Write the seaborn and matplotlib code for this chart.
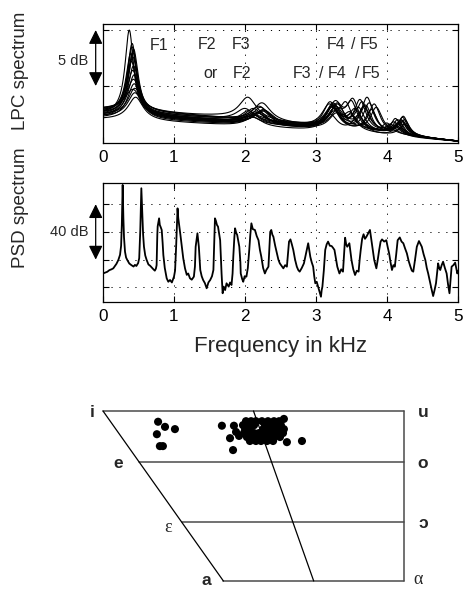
import numpy as np
import pandas as pd
import matplotlib
matplotlib.use("Agg")
import matplotlib.pyplot as plt
import seaborn as sns

nan = np.nan

# ---------------------------------------------------------------------------
# LPC envelopes: one row per analysed frame.
# Columns: F1, low F2 bump, F2/F3, F3/F4, F4/F5, F5 (kHz) and the peak level (dB)
# ---------------------------------------------------------------------------
lpc_formant_khz = np.array([
    [0.37, nan, 2.15, 3.25, 3.60, 4.15],
    [0.41, nan, 2.20, 3.27, 3.52, 4.20],
    [0.41, nan, 2.12, 3.24, 3.72, 4.22],
    [0.42, nan, 2.24, 3.28, 3.65, 4.10],
    [0.42, nan, 2.05, 3.20, 3.82, 4.25],
    [0.40, nan, 2.18, 3.30, 3.50, 4.15],
    [0.43, nan, 2.22, 3.24, 3.75, 4.20],
    [0.42, nan, 2.10, 3.22, 3.62, 4.05],
    [0.44, nan, 2.26, 3.30, 3.85, 4.22],
    [0.43, nan, 2.15, 3.26, 3.55, 4.10],
    [0.44, nan, 2.20, 3.23, 3.70, 4.18],
    [0.45, nan, 2.08, 3.28, 3.48, 4.20],
    [0.45, nan, 2.24, 3.25, 3.78, 4.25],
    [0.46, nan, 2.12, 3.20, 3.60, 4.15],
    [0.42, 1.60, 2.04, 3.22, 3.50, 4.00],
    [0.39, nan, 2.00, 3.18, 3.42, 4.12],
    [0.43, nan, 2.28, 3.30, 3.68, 4.23],
])
lpc_peak_db = np.array([
    [5.0, nan, -2.3, -1.6, -1.9, -3.0],
    [3.8, nan, -1.8, -1.3, -1.1, -3.1],
    [3.5, nan, -2.0, -1.5, -1.0, -2.8],
    [3.0, nan, -1.5, -1.8, -1.4, -3.2],
    [2.6, nan, -2.2, -1.4, -1.6, -3.0],
    [2.2, nan, -2.4, -2.0, -1.3, -3.3],
    [1.8, nan, -1.9, -1.7, -1.5, -3.0],
    [1.4, nan, -2.5, -1.9, -1.2, -3.4],
    [1.0, nan, -2.1, -1.5, -1.9, -3.1],
    [0.6, nan, -2.6, -2.2, -2.0, -3.5],
    [0.2, nan, -2.3, -1.8, -1.7, -3.2],
    [-0.2, nan, -2.7, -2.4, -2.3, -3.8],
    [-0.6, nan, -2.2, -2.0, -2.1, -3.4],
    [-1.0, nan, -2.8, -2.5, -2.6, -3.6],
    [-0.3, -2.5, -1.0, -1.8, -2.5, -3.3],
    [2.9, nan, -2.0, -1.6, -1.4, -2.9],
    [3.3, nan, -2.2, -1.6, -1.8, -2.7],
])
lpc_f1_width_khz = np.array([0.072, 0.078, 0.08, 0.085, 0.088, 0.09, 0.095, 0.10,
                             0.105, 0.11, 0.115, 0.12, 0.125, 0.13, 0.14, 0.08, 0.082])
lpc_width_khz = np.array([nan, 0.25, 0.15, 0.12, 0.10, 0.08])
lpc_offset_db = np.array([-2.5, -2.3, -2.6, -2.2, -2.7, -2.4, -2.8, -2.5, -2.65,
                          -2.1, -2.9, -2.6, -2.75, -3.0, -2.1, -2.3, -2.45])
lpc_nyquist_db = -4.95
lpc_tilt_power = 1.25

# ---------------------------------------------------------------------------
# Power spectral density of one frame (kHz, dB)
# ---------------------------------------------------------------------------
psd_points = [
    (0.00, 10.0), (0.03, 10.6), (0.06, 11.2), (0.09, 12.4), (0.12, 13.0), (0.145, 13.7),
    (0.17, 15.5), (0.19, 17.0), (0.216, 19.7), (0.24, 23.5), (0.255, 30.0), (0.265, 45.0),
    (0.277, 73.9), (0.287, 50.0), (0.296, 36.0), (0.31, 25.7), (0.325, 21.5), (0.342, 19.7),
    (0.37, 17.2), (0.40, 16.0), (0.43, 15.0), (0.45, 16.2), (0.47, 15.4), (0.495, 17.5),
    (0.51, 21.0), (0.525, 41.0), (0.54, 71.5), (0.553, 53.4), (0.565, 38.0), (0.577, 29.3),
    (0.595, 23.0), (0.615, 19.7), (0.64, 16.5), (0.665, 15.5), (0.686, 14.3), (0.71, 13.0),
    (0.73, 12.0), (0.745, 13.5), (0.755, 16.0), (0.765, 38.0), (0.77, 44.0), (0.79, 49.8),
    (0.80, 45.0), (0.81, 43.8), (0.827, 41.4), (0.84, 32.0), (0.85, 23.3), (0.87, 14.0),
    (0.897, 6.5), (0.92, 4.0), (0.944, 5.3), (0.97, 3.5), (1.00, 7.7), (1.015, 12.0),
    (1.03, 29.3), (1.05, 57.0), (1.06, 50.0), (1.07, 46.2), (1.09, 38.0), (1.11, 29.3),
    (1.13, 21.0), (1.155, 13.7), (1.18, 9.0), (1.20, 10.0), (1.225, 6.5), (1.25, 5.5),
    (1.28, 7.7), (1.295, 15.0), (1.305, 29.3), (1.33, 39.0), (1.35, 29.3), (1.37, 12.5),
    (1.39, 8.0), (1.41, 5.3), (1.435, 3.0), (1.46, -0.7), (1.485, 3.5), (1.51, 5.3),
    (1.535, 8.0), (1.555, 12.5), (1.565, 30.0), (1.577, 49.8), (1.59, 48.0), (1.605, 45.0),
    (1.62, 43.8), (1.65, 34.0), (1.66, 22.0), (1.67, 10.0), (1.685, -4.3), (1.70, 0.5),
    (1.72, -2.0), (1.74, 2.9), (1.77, 0.5), (1.79, 3.5), (1.81, 1.7), (1.825, 10.0),
    (1.835, 22.0), (1.85, 36.0), (1.86, 42.6), (1.875, 39.5), (1.89, 37.8), (1.92, 29.3),
    (1.935, 18.0), (1.94, 10.0), (1.96, 6.0), (1.975, 4.0), (1.995, 8.0), (2.02, 7.7),
    (2.04, 14.0), (2.06, 27.0), (2.075, 38.0), (2.09, 46.2), (2.11, 42.0), (2.14, 41.4),
    (2.165, 37.0), (2.19, 34.0), (2.21, 27.0), (2.23, 22.0), (2.255, 14.0), (2.28, 10.0),
    (2.30, 12.5), (2.33, 14.9), (2.345, 30.0), (2.355, 40.0), (2.37, 41.4), (2.385, 38.0),
    (2.40, 36.5), (2.425, 30.0), (2.45, 24.5), (2.47, 20.0), (2.49, 17.3), (2.515, 15.5),
    (2.54, 13.7), (2.565, 16.0), (2.59, 14.9), (2.605, 24.0), (2.62, 33.0), (2.64, 34.6),
    (2.66, 31.0), (2.68, 27.0), (2.705, 20.0), (2.73, 14.9), (2.75, 12.5), (2.77, 11.3),
    (2.80, 14.0), (2.83, 17.3), (2.85, 22.0), (2.87, 27.0), (2.89, 31.8), (2.905, 27.0),
    (2.92, 22.0), (2.94, 18.0), (2.96, 14.9), (2.975, 8.0), (2.99, 2.9), (3.01, 4.0),
    (3.03, 0.4), (3.05, -3.0), (3.07, -6.8), (3.08, -2.0), (3.09, 0.4), (3.11, 12.0),
    (3.13, 27.0), (3.15, 31.0), (3.17, 33.0), (3.195, 30.0), (3.22, 29.8), (3.24, 28.5),
    (3.26, 27.0), (3.28, 21.0), (3.30, 14.9), (3.33, 10.0), (3.355, 13.0), (3.38, 11.3),
    (3.395, 24.0), (3.41, 35.8), (3.425, 31.0), (3.44, 29.3), (3.47, 31.8), (3.485, 26.0),
    (3.50, 19.7), (3.525, 13.0), (3.55, 8.9), (3.575, 12.0), (3.60, 11.3), (3.615, 20.0),
    (3.63, 27.0), (3.65, 35.0), (3.67, 38.3), (3.69, 35.0), (3.71, 36.5), (3.735, 39.0),
    (3.76, 41.4), (3.78, 34.0), (3.80, 27.0), (3.82, 19.7), (3.85, 13.7), (3.87, 20.0),
    (3.89, 27.0), (3.91, 33.0), (3.93, 34.6), (3.96, 33.0), (3.99, 34.0), (4.01, 29.0),
    (4.03, 24.5), (4.05, 18.0), (4.07, 12.5), (4.09, 16.0), (4.11, 14.9), (4.13, 24.0),
    (4.15, 34.0), (4.18, 36.0), (4.205, 33.0), (4.23, 31.8), (4.255, 28.0), (4.28, 24.5),
    (4.305, 19.0), (4.33, 14.9), (4.35, 12.0), (4.37, 11.3), (4.395, 20.0), (4.42, 29.3),
    (4.45, 33.4), (4.49, 29.3), (4.515, 24.0), (4.54, 19.7), (4.56, 14.0), (4.58, 10.0),
    (4.605, 4.0), (4.63, -1.9), (4.65, -6.3), (4.67, -2.0), (4.69, 2.9), (4.705, 10.0),
    (4.72, 17.3), (4.735, 14.0), (4.75, 12.5), (4.77, 16.0), (4.79, 18.5), (4.815, 14.0),
    (4.84, 10.0), (4.86, 2.0), (4.88, -4.3), (4.895, 5.0), (4.91, 14.9), (4.935, 16.0),
    (4.96, 17.8), (4.975, 14.0), (4.99, 10.0), (5.00, 12.0),
]

# ---------------------------------------------------------------------------
# Vowel quadrilateral: tongue position of each frame (frontness 0..10, height 0..3)
# ---------------------------------------------------------------------------
vowel_front = [1.83, 2.06, 2.39, 1.79, 1.89, 1.99,
               3.95, 4.35, 4.22, 4.32, 4.52, 6.61, 6.01, 6.11,
               4.75, 4.92, 5.08, 5.28, 5.48, 5.68, 5.85,
               4.65, 4.82, 5.02, 5.38, 5.55, 5.75, 5.91,
               4.72, 4.88, 5.32, 5.48, 5.65, 5.81, 6.01,
               4.68, 4.85, 5.02, 5.18, 5.38, 5.58, 5.78, 5.98,
               4.78, 4.95, 5.12, 5.28, 5.48, 5.68, 5.88,
               4.88, 5.08, 5.25, 5.45, 5.65, 4.42, 5.35, 5.60]
vowel_height = [2.81, 2.72, 2.68, 2.59, 2.38, 2.38,
                2.74, 2.74, 2.52, 2.31, 2.56, 2.47, 2.86, 2.45,
                2.82, 2.82, 2.82, 2.82, 2.82, 2.82, 2.82,
                2.75, 2.75, 2.75, 2.75, 2.75, 2.75, 2.75,
                2.68, 2.68, 2.68, 2.68, 2.68, 2.68, 2.68,
                2.61, 2.61, 2.61, 2.61, 2.61, 2.61, 2.61, 2.61,
                2.54, 2.54, 2.54, 2.54, 2.54, 2.54, 2.54,
                2.47, 2.47, 2.47, 2.47, 2.47, 2.63, 2.58, 2.50]
vowel_levels = [3.0, 2.10, 1.04, 0.0]      # i/u, e/o, ε/ɔ, a/α
vowel_back_x = 10.0
vowel_open_front_x = 4.0
vowel_mid_top_x, vowel_mid_bottom_x = 5.0, 7.0

# ---------------------------------------------------------------------------
sns.set_theme(style="ticks")
plt.rcParams["font.family"] = ["Liberation Sans", "DejaVu Sans"]

W, H = 466, 590
fig = plt.figure(figsize=(W / 100, H / 100), dpi=100)


def rect(left, top, right, bottom):
    return [left / W, 1 - bottom / H, (right - left) / W, (bottom - top) / H]


ax1 = fig.add_axes(rect(103, 24, 458, 143))
ax2 = fig.add_axes(rect(103, 183, 458, 302))
ax3 = fig.add_axes(rect(80, 395, 440, 590))

# --- LPC envelopes ---------------------------------------------------------
freq = np.linspace(0, 5, 1001)
frames = []
for i in range(len(lpc_offset_db)):
    fk = lpc_formant_khz[i]
    lk = lpc_peak_db[i]
    wk = lpc_width_khz.copy()
    wk[0] = lpc_f1_width_khz[i]
    keep = ~np.isnan(fk)
    fk, lk, wk = fk[keep], lk[keep], wk[keep]

    def tilt(f, i=i):
        return lpc_offset_db[i] + (lpc_nyquist_db - lpc_offset_db[i]) * (f / 5.0) ** lpc_tilt_power

    shape_at_peaks = 1.0 / (1.0 + ((fk[:, None] - fk[None, :]) / wk[None, :]) ** 2)
    gains = np.linalg.solve(shape_at_peaks, lk - tilt(fk))
    env = tilt(freq) + (gains[None, :] /
                        (1.0 + ((freq[:, None] - fk[None, :]) / wk[None, :]) ** 2)).sum(axis=1)
    frames.append(pd.DataFrame({"khz": freq, "db": env, "frame": i}))
lpc_df = pd.concat(frames, ignore_index=True)

sns.lineplot(data=lpc_df, x="khz", y="db", units="frame", estimator=None,
             color="black", lw=0.8, ax=ax1, legend=False)
ax1.set_xlim(0, 5)
ax1.set_ylim(-5.09, 5.54)
ax1.set_yticks([0, 5])

# --- PSD ------------------------------------------------------------------
psd_khz, psd_db = map(np.array, zip(*psd_points))
psd_df = pd.DataFrame({"khz": psd_khz, "db": psd_db})
sns.lineplot(data=psd_df, x="khz", y="db", estimator=None, sort=False,
             color="black", lw=1.3, ax=ax2)
ax2.set_xlim(0, 5)
ax2.set_ylim(-10.6, 75.3)
ax2.set_yticks([0, 20, 40, 60])

dotted = (0, (1.2, 7))
for ax in (ax1, ax2):
    ax.set_xticks(range(6))
    ax.set_xticklabels([str(v) for v in range(6)])
    ax.tick_params(direction="in", length=4, width=0.8, top=True, right=True,
                   labelsize=12.3, pad=5, colors="black")
    ax.tick_params(axis="y", labelleft=False)
    for s in ax.spines.values():
        s.set_linewidth(0.9)
        s.set_color("black")
    for x in range(1, 5):
        ax.axvline(x, color="black", lw=0.7, ls=dotted, zorder=0)
    for y in ax.get_yticks():
        ax.axhline(y, color="black", lw=0.7, ls=dotted, zorder=0)
    ax.set_xlabel("")

ax1.set_ylabel("LPC spectrum", fontsize=13.5, va="center")
ax1.yaxis.set_label_coords(-0.231, 0.605)
ax2.set_ylabel("PSD spectrum", fontsize=13.5, va="center")
ax2.yaxis.set_label_coords(-0.231, 0.79)
ax2.set_xlabel("Frequency in kHz", fontsize=16, labelpad=9)

# scale arrows
arrow = dict(arrowstyle="<|-|>,head_length=0.85,head_width=0.42", color="black",
             lw=0.9, shrinkA=0, shrinkB=0, mutation_scale=10)
ax1.annotate("", xy=(-0.0206, 5), xytext=(-0.0206, 0), xycoords=ax1.get_yaxis_transform(),
             arrowprops=arrow, annotation_clip=False)
ax1.text(-0.0845, 2.2, "5 dB", transform=ax1.get_yaxis_transform(), fontsize=10.5,
         ha="center", va="center")
ax2.annotate("", xy=(-0.0206, 60), xytext=(-0.0206, 20), xycoords=ax2.get_yaxis_transform(),
             arrowprops=arrow, annotation_clip=False)
ax2.text(-0.0958, 40, "40 dB", transform=ax2.get_yaxis_transform(), fontsize=10.5,
         ha="center", va="center")

# formant annotations
for label, fx, fy in [("F1", 0.79, 3.66),
                      ("F2", 1.47, 3.75), ("F3", 1.94, 3.75),
                      ("or", 1.52, 1.16), ("F2", 1.96, 1.16),
                      ("F4", 3.28, 3.75), ("/", 3.52, 3.75), ("F5", 3.75, 3.75),
                      ("F3", 2.81, 1.16), ("/", 3.08, 1.16), ("F4", 3.30, 1.16),
                      ("/", 3.58, 1.16), ("F5", 3.77, 1.16)]:
    ax1.text(fx, fy, label, fontsize=11.5, ha="center", va="center")

# --- Vowel quadrilateral ----------------------------------------------------
top, e_lvl, eps_lvl, bot = vowel_levels


def front_edge(h):
    return vowel_open_front_x * (top - h) / (top - bot)


grey = "#4a4a4a"
for h in vowel_levels:
    ax3.plot([front_edge(h), vowel_back_x], [h, h], color=grey, lw=1.1)
ax3.plot([vowel_back_x, vowel_back_x], [bot, top], color=grey, lw=1.1)
ax3.plot([front_edge(top), front_edge(bot)], [top, bot], color="black", lw=0.9)
ax3.plot([vowel_mid_top_x, vowel_mid_bottom_x], [top, bot], color="black", lw=0.9)

sns.scatterplot(x=vowel_front, y=vowel_height, s=34, color="black", edgecolor="none",
                ax=ax3, zorder=3)

bold = dict(fontsize=12.5, fontweight="bold", ha="center", va="center")
serif = dict(fontsize=13, ha="center", va="center", family=["Liberation Serif", "DejaVu Serif"])
ax3.text(-0.36, 2.97, "i", **bold)
ax3.text(10.63, 2.98, "u", **bold)
ax3.text(0.50, 2.08, "e", **bold)
ax3.text(10.63, 2.08, "o", **bold)
ax3.text(2.16, 0.95, "ε", **serif)
ax3.text(10.63, 1.02, "ɔ", **bold)
ax3.text(3.42, 0.0, "a", **bold)
ax3.text(10.47, 0.02, "α", **serif)

ax3.set_xlim(-0.764, 11.196)
ax3.set_ylim(-0.159, 3.282)
ax3.axis("off")

fig.savefig("out.png", dpi=100, facecolor="white")
